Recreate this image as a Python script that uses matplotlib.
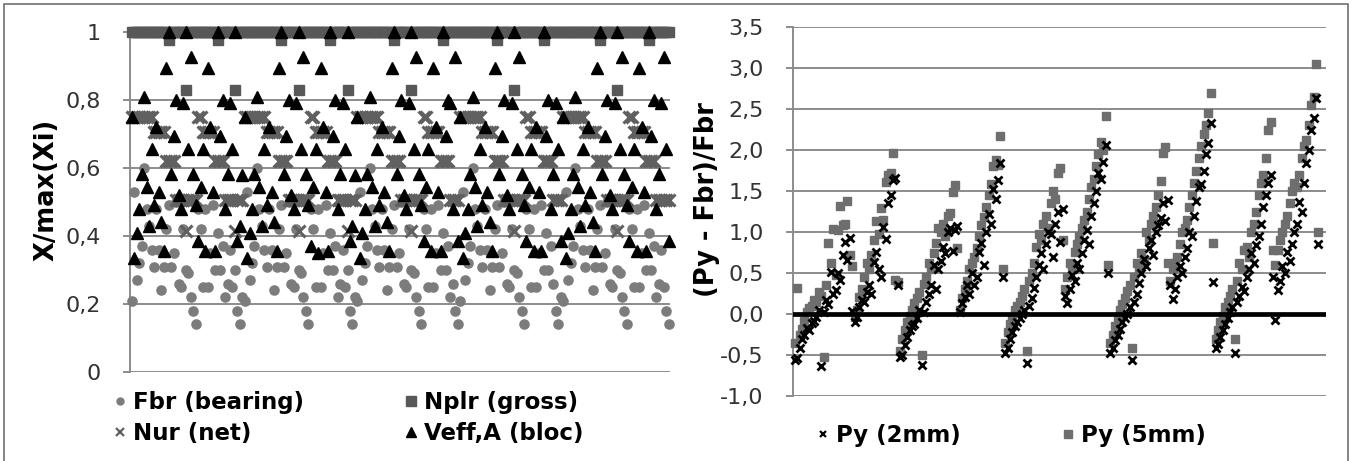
import numpy as np
import matplotlib
matplotlib.use("Agg")
import matplotlib.pyplot as plt
from matplotlib.lines import Line2D
from matplotlib.patches import Rectangle

plt.rcParams['font.family'] = ['DejaVu Sans']

# ---- left panel: normalised resistances, 5 blocks of cases ----
fbr = (
    [0.21, 0.53, 0.27, 0.32, 0.37, 0.60, 0.48, 0.43, 0.36, 0.31,
     0.48, 0.36, 0.24, 0.31, 0.42, 0.49, 0.31, 0.35, 0.50, 0.26,
     0.25, 0.42, 0.30, 0.29, 0.22, 0.18, 0.14, 0.48, 0.42, 0.25,
     0.48, 0.25, 0.35, 0.49, 0.30, 0.41, 0.30, 0.37, 0.22, 0.26,
     0.36, 0.25, 0.30, 0.18, 0.14, 0.22]
    + [0.21, 0.53, 0.27, 0.32, 0.37, 0.60, 0.48, 0.43, 0.36, 0.31,
       0.48, 0.36, 0.24, 0.31, 0.42, 0.49, 0.31, 0.35, 0.50, 0.26,
       0.25, 0.42, 0.30, 0.29, 0.22, 0.18, 0.14, 0.48, 0.42, 0.25,
       0.48, 0.25, 0.35, 0.49, 0.30, 0.41, 0.30, 0.37, 0.22, 0.26,
       0.36, 0.25, 0.30, 0.18, 0.14, 0.22]
    + [0.21, 0.53, 0.27, 0.32, 0.37, 0.60, 0.48, 0.43, 0.36, 0.31,
       0.48, 0.36, 0.24, 0.31, 0.42, 0.49, 0.31, 0.35, 0.50, 0.26,
       0.25, 0.42, 0.30, 0.29, 0.22, 0.18, 0.14, 0.48, 0.42, 0.25,
       0.48, 0.25, 0.35, 0.49, 0.30, 0.41, 0.30, 0.37, 0.22, 0.26,
       0.18, 0.14]
    + [0.21, 0.53, 0.27, 0.32, 0.37, 0.60, 0.48, 0.43, 0.36, 0.31,
       0.48, 0.36, 0.24, 0.31, 0.42, 0.49, 0.31, 0.35, 0.50, 0.26,
       0.25, 0.42, 0.30, 0.29, 0.22, 0.18, 0.14, 0.48, 0.42, 0.25,
       0.48, 0.25, 0.35, 0.49, 0.30, 0.41, 0.30, 0.37, 0.26, 0.18,
       0.14, 0.22]
    + [0.21, 0.53, 0.27, 0.32, 0.37, 0.60, 0.48, 0.43, 0.36, 0.31,
       0.48, 0.36, 0.24, 0.31, 0.42, 0.49, 0.31, 0.35, 0.50, 0.26,
       0.25, 0.42, 0.30, 0.29, 0.22, 0.18, 0.14, 0.48, 0.42, 0.25,
       0.48, 0.25, 0.35, 0.49, 0.30, 0.41, 0.30, 0.37, 0.22, 0.26,
       0.36, 0.25, 0.18, 0.14]
)

nplr = (
    [1.0, 1.0, 1.0, 1.0, 1.0, 1.0, 1.0, 1.0, 1.0, 1.0,
     1.0, 1.0, 1.0, 1.0, 1.0, 0.975, 1.0, 1.0, 1.0, 1.0,
     1.0, 1.0, 0.83, 1.0, 1.0, 1.0, 1.0, 1.0, 1.0, 1.0,
     1.0, 1.0, 1.0, 1.0, 1.0, 0.975, 1.0, 1.0, 1.0, 1.0,
     1.0, 1.0, 0.83, 1.0, 1.0, 1.0]
    + [1.0, 1.0, 1.0, 1.0, 1.0, 1.0, 1.0, 1.0, 1.0, 1.0,
       1.0, 1.0, 1.0, 1.0, 1.0, 0.975, 1.0, 1.0, 1.0, 1.0,
       1.0, 1.0, 0.83, 1.0, 1.0, 1.0, 1.0, 1.0, 1.0, 1.0,
       1.0, 1.0, 1.0, 1.0, 1.0, 0.975, 1.0, 1.0, 1.0, 1.0,
       1.0, 1.0, 0.83, 1.0, 1.0, 1.0]
    + [1.0, 1.0, 1.0, 1.0, 1.0, 1.0, 1.0, 1.0, 1.0, 1.0,
       1.0, 1.0, 1.0, 1.0, 1.0, 0.975, 1.0, 1.0, 1.0, 1.0,
       1.0, 1.0, 0.83, 1.0, 1.0, 1.0, 1.0, 1.0, 1.0, 1.0,
       1.0, 1.0, 1.0, 1.0, 1.0, 0.975, 1.0, 1.0, 1.0, 1.0,
       1.0, 1.0]
    + [1.0, 1.0, 1.0, 1.0, 1.0, 1.0, 1.0, 1.0, 1.0, 1.0,
       1.0, 1.0, 1.0, 1.0, 1.0, 0.975, 1.0, 1.0, 1.0, 1.0,
       1.0, 1.0, 0.83, 1.0, 1.0, 1.0, 1.0, 1.0, 1.0, 1.0,
       1.0, 1.0, 1.0, 1.0, 0.975, 1.0, 1.0, 1.0, 1.0, 1.0,
       1.0, 1.0]
    + [1.0, 1.0, 1.0, 1.0, 1.0, 1.0, 1.0, 1.0, 1.0, 1.0,
       1.0, 1.0, 1.0, 1.0, 1.0, 0.975, 1.0, 1.0, 1.0, 1.0,
       1.0, 1.0, 0.83, 1.0, 1.0, 1.0, 1.0, 1.0, 1.0, 1.0,
       1.0, 1.0, 1.0, 1.0, 1.0, 0.975, 1.0, 1.0, 1.0, 1.0,
       1.0, 1.0, 1.0, 1.0]
)

nur = (
    [0.75, 0.75, 0.75, 0.75, 0.75, 0.75, 0.75, 0.75, 0.75, 0.705,
     0.705, 0.705, 0.705, 0.705, 0.62, 0.62, 0.62, 0.62, 0.505, 0.505,
     0.505, 0.505, 0.415, 0.505, 0.505, 0.505, 0.505, 0.75, 0.75, 0.705,
     0.705, 0.705, 0.705, 0.705, 0.62, 0.62, 0.62, 0.62, 0.505, 0.505,
     0.505, 0.505, 0.415, 0.505, 0.505, 0.505]
    + [0.75, 0.75, 0.75, 0.75, 0.75, 0.75, 0.75, 0.75, 0.75, 0.705,
       0.705, 0.705, 0.705, 0.705, 0.62, 0.62, 0.62, 0.62, 0.505, 0.505,
       0.505, 0.505, 0.415, 0.505, 0.505, 0.505, 0.505, 0.75, 0.75, 0.705,
       0.705, 0.705, 0.705, 0.705, 0.62, 0.62, 0.62, 0.62, 0.505, 0.505,
       0.505, 0.505, 0.415, 0.505, 0.505, 0.505]
    + [0.75, 0.75, 0.75, 0.75, 0.75, 0.75, 0.75, 0.75, 0.75, 0.705,
       0.705, 0.705, 0.705, 0.705, 0.62, 0.62, 0.62, 0.62, 0.505, 0.505,
       0.505, 0.505, 0.415, 0.505, 0.505, 0.505, 0.505, 0.75, 0.75, 0.705,
       0.705, 0.705, 0.705, 0.705, 0.62, 0.62, 0.62, 0.62, 0.505, 0.505,
       0.505, 0.505]
    + [0.75, 0.75, 0.75, 0.75, 0.75, 0.75, 0.75, 0.75, 0.75, 0.705,
       0.705, 0.705, 0.705, 0.705, 0.62, 0.62, 0.62, 0.62, 0.505, 0.505,
       0.505, 0.505, 0.415, 0.505, 0.505, 0.505, 0.505, 0.75, 0.75, 0.705,
       0.705, 0.705, 0.705, 0.705, 0.62, 0.62, 0.62, 0.62, 0.505, 0.505,
       0.505, 0.505]
    + [0.75, 0.75, 0.75, 0.75, 0.75, 0.75, 0.75, 0.75, 0.75, 0.705,
       0.705, 0.705, 0.705, 0.705, 0.62, 0.62, 0.62, 0.62, 0.505, 0.505,
       0.505, 0.505, 0.415, 0.505, 0.505, 0.505, 0.505, 0.75, 0.75, 0.705,
       0.705, 0.705, 0.705, 0.705, 0.62, 0.62, 0.62, 0.62, 0.505, 0.505,
       0.505, 0.505, 0.505, 0.505]
)

veff = (
    [0.75, 0.335, 0.41, 0.48, 0.583, 0.81, 0.545, 0.43, 0.656, 0.49,
     0.72, 0.53, 0.44, 0.355, 0.895, 1.0, 0.583, 0.695, 0.80, 0.52,
     0.48, 0.79, 1.0, 0.656, 0.927, 0.583, 0.49, 0.385, 0.545, 0.656,
     0.355, 0.895, 0.72, 0.53, 0.355, 1.0, 0.695, 0.80, 0.48, 0.583,
     0.79, 0.656, 1.0, 0.385, 0.43, 0.58]
    + [0.75, 0.335, 0.41, 0.48, 0.583, 0.81, 0.545, 0.43, 0.656, 0.49,
       0.72, 0.53, 0.44, 0.355, 0.895, 1.0, 0.583, 0.695, 0.80, 0.52,
       0.48, 0.79, 1.0, 0.656, 0.927, 0.583, 0.49, 0.37, 0.545, 0.656,
       0.35, 0.895, 0.72, 0.53, 0.355, 1.0, 0.695, 0.80, 0.48, 0.583,
       0.79, 0.656, 1.0, 0.385, 0.43, 0.58]
    + [0.75, 0.335, 0.41, 0.48, 0.583, 0.81, 0.545, 0.43, 0.656, 0.49,
       0.72, 0.53, 0.44, 0.355, 0.895, 1.0, 0.583, 0.695, 0.80, 0.52,
       0.48, 0.79, 1.0, 0.656, 0.927, 0.583, 0.49, 0.385, 0.545, 0.656,
       0.355, 0.895, 0.72, 0.53, 0.355, 1.0, 0.695, 0.80, 0.79, 0.48,
       0.927, 0.385]
    + [0.75, 0.335, 0.41, 0.48, 0.583, 0.81, 0.545, 0.43, 0.656, 0.49,
       0.72, 0.53, 0.44, 0.355, 0.895, 1.0, 0.583, 0.695, 0.80, 0.52,
       0.48, 0.79, 1.0, 0.656, 0.927, 0.583, 0.49, 0.385, 0.545, 0.656,
       0.355, 0.72, 0.53, 0.355, 1.0, 0.695, 0.80, 0.48, 0.583, 0.79,
       0.656, 0.385]
    + [0.75, 0.335, 0.41, 0.48, 0.583, 0.81, 0.545, 0.43, 0.656, 0.49,
       0.72, 0.53, 0.44, 0.355, 0.895, 1.0, 0.583, 0.695, 0.80, 0.52,
       0.48, 0.79, 1.0, 0.656, 0.927, 0.583, 0.49, 0.385, 0.545, 0.656,
       0.355, 0.895, 0.72, 0.53, 0.355, 1.0, 0.695, 0.80, 0.48, 0.583,
       0.79, 0.927, 0.656, 0.385]
)

# ---- right panel: (Py - Fbr)/Fbr for 2 mm and 5 mm deformation ----
py_2mm = (
    [-0.56, -0.54, -0.42, -0.30, -0.25, -0.17, -0.20, -0.11, -0.08, -0.04,
     0.05, -0.64, 0.02, 0.17, 0.12, 0.51, 0.24, 0.29, 0.50, 0.42,
     0.72, 0.88, 0.66, 0.93, 0.04]
    + [-0.10, -0.04, 0.08, 0.17, 0.15, 0.27, 0.35, 0.25, 0.63, 0.76,
       0.55, 0.45, 1.06, 0.92, 1.35, 1.45, 1.63, 1.66, 0.35]
    + [-0.52, -0.50, -0.38, -0.28, -0.20, -0.15, -0.12, -0.05, 0.05, -0.62,
       0.02, 0.15, 0.25, 0.35, 0.60, 0.30, 0.55, 0.65, 0.82, 0.75,
       1.00, 1.05, 0.77, 1.03, 1.07]
    + [0.02, 0.13, 0.21, 0.35, 0.25, 0.50, 0.35, 0.45, 0.76, 0.87,
       0.60, 1.00, 1.22, 1.10, 1.52, 1.40, 1.63, 1.84, 0.45]
    + [-0.48, -0.42, -0.30, -0.22, -0.15, -0.10, -0.05, 0.00, 0.05, -0.60,
       0.10, 0.20, 0.32, 0.45, 0.60, 0.74, 0.55, 0.85, 1.00, 0.98,
       0.70, 1.10, 1.25, 0.88, 1.28]
    + [0.22, 0.13, 0.30, 0.47, 0.40, 0.62, 0.55, 0.75, 0.90, 1.02,
       0.85, 1.20, 1.35, 1.50, 1.72, 1.65, 1.85, 2.06, 0.50]
    + [-0.48, -0.42, -0.32, -0.25, -0.18, -0.10, -0.05, 0.00, 0.08, -0.56,
       0.15, 0.25, 0.38, 0.50, 0.67, 0.59, 0.80, 0.90, 0.72, 1.00,
       1.08, 1.17, 1.35, 1.13, 1.39]
    + [0.35, 0.18, 0.30, 0.45, 0.59, 0.50, 0.70, 0.80, 1.00, 0.95,
       1.20, 1.38, 1.55, 1.59, 1.75, 1.95, 2.09, 2.33, 0.39]
    + [-0.42, -0.37, -0.28, -0.20, -0.12, -0.05, 0.02, 0.08, -0.48, 0.15,
       0.22, 0.33, 0.28, 0.45, 0.55, 0.74, 0.62, 0.84, 0.95, 1.10,
       1.30, 1.45, 1.60, 1.69, 0.45]
    + [-0.07, 0.29, 0.40, 0.58, 0.50, 0.76, 0.65, 0.85, 1.00, 1.10,
       1.37, 1.25, 1.60, 1.84, 2.00, 2.24, 2.39, 2.64, 0.85]
)

py_5mm = (
    [-0.35, 0.32, -0.25, -0.18, -0.08, 0.02, 0.07, 0.10, 0.17, 0.15,
     0.27, 0.22, -0.52, 0.35, 0.86, 0.62, 1.04, 0.48, 1.02, 1.32,
     1.08, 1.10, 1.38, 0.72, 0.58]
    + [-0.04, 0.05, 0.21, 0.30, 0.45, 0.62, 0.55, 0.72, 0.90, 1.13,
       0.98, 1.29, 1.15, 1.61, 1.70, 1.72, 1.96, 0.41, 0.39]
    + [-0.45, -0.30, -0.19, -0.10, -0.02, 0.05, 0.13, 0.20, 0.27, -0.50,
       0.37, 0.45, 0.62, 0.55, 0.74, 0.87, 1.05, 1.00, 1.10, 0.95,
       1.20, 1.23, 1.49, 1.57, 0.80]
    + [0.05, 0.20, 0.30, 0.40, 0.55, 0.62, 0.70, 0.80, 0.95, 1.08,
       1.18, 1.30, 1.45, 1.58, 1.80, 1.88, 1.82, 2.17, 0.55]
    + [-0.35, -0.22, -0.12, -0.05, 0.05, 0.10, 0.15, 0.22, 0.30, -0.45,
       0.40, 0.50, 0.62, 0.82, 0.98, 0.90, 1.10, 1.20, 1.05, 1.35,
       1.50, 1.40, 1.72, 1.78, 0.90]
    + [0.30, 0.45, 0.62, 0.55, 0.76, 0.85, 0.95, 1.05, 1.15, 1.25,
       1.40, 1.55, 1.65, 1.80, 1.95, 2.10, 2.00, 2.41, 0.60]
    + [-0.35, -0.25, -0.15, -0.05, 0.05, 0.12, 0.20, 0.28, 0.35, -0.42,
       0.45, 0.62, 0.55, 0.75, 0.66, 1.00, 0.90, 1.10, 1.20, 1.30,
       1.45, 1.62, 1.96, 2.04, 0.62]
    + [0.40, 0.55, 0.62, 0.70, 0.85, 1.00, 1.05, 1.15, 1.30, 1.45,
       1.60, 1.75, 1.90, 2.05, 2.20, 2.30, 2.45, 2.70, 0.86]
    + [-0.30, -0.20, -0.10, -0.02, 0.08, 0.15, 0.22, 0.30, -0.31, 0.40,
       0.62, 0.55, 0.78, 0.82, 0.70, 1.00, 1.10, 1.25, 1.45, 1.60,
       1.70, 1.90, 2.24, 2.34, 0.78]
    + [0.60, 0.78, 0.90, 1.00, 1.10, 1.20, 1.35, 1.50, 1.60, 1.55,
       1.70, 1.90, 2.05, 2.12, 2.30, 2.55, 2.65, 3.05, 1.00]
)

left_ticks = [0, 0.2, 0.4, 0.6, 0.8, 1.0]
left_labels = ['0', '0,2', '0,4', '0,6', '0,8', '1']
right_ticks = [-1.0, -0.5, 0.0, 0.5, 1.0, 1.5, 2.0, 2.5, 3.0, 3.5]
right_labels = ['-1,0', '-0,5', '0,0', '0,5', '1,0', '1,5', '2,0', '2,5', '3,0', '3,5']

GRID = '#8c8c8c'
C_FBR = '#7c7c7c'
C_NPL = '#585858'
C_NUR = '#606060'
C_PY5 = '#6e6e6e'

W, H = 1358, 461
fig = plt.figure(figsize=(W / 100, H / 100), dpi=100)
fig.patch.set_facecolor('white')


def box(x0, y0, x1, y1):
    return [x0 / W, 1 - y1 / H, (x1 - x0) / W, (y1 - y0) / H]


ax1 = fig.add_axes(box(130, 32, 670, 372))
ax2 = fig.add_axes(box(793, 27, 1326, 396))

for ax in (ax1, ax2):
    ax.set_facecolor('none')
    for s in ('top', 'right', 'bottom'):
        ax.spines[s].set_visible(False)
    ax.spines['left'].set_color(GRID)
    ax.spines['left'].set_linewidth(1.4)
    ax.tick_params(axis='y', length=5, width=1.4, color=GRID,
                   labelsize=16, labelcolor='#333333', pad=16)
    ax.tick_params(axis='x', bottom=False, labelbottom=False)
    ax.yaxis.grid(True, color=GRID, linewidth=1.4)
    ax.set_axisbelow(True)

# left panel
xl = np.arange(len(fbr))
ax1.plot(xl, fbr, ls='none', marker='o', ms=6.6, mfc=C_FBR, mec=C_FBR,
         clip_on=False, zorder=3)
ax1.plot(xl, nplr, ls='none', marker='s', ms=7.6, mfc=C_NPL, mec=C_NPL,
         clip_on=False, zorder=4)
ax1.plot(xl, nur, ls='none', marker='x', ms=8.2, mew=2.2, color=C_NUR,
         clip_on=False, zorder=5)
ax1.plot(xl, veff, ls='none', marker='^', ms=8.6, mfc='black', mec='black',
         clip_on=False, zorder=6)
ax1.set_xlim(-0.8, 219.6)
ax1.set_ylim(0, 1.0)
ax1.set_yticks(left_ticks)
ax1.set_yticklabels(left_labels)

# right panel
xr = np.arange(len(py_2mm))
ax2.plot(xr, py_5mm, ls='none', marker='s', ms=6.4, mfc=C_PY5, mec=C_PY5,
         clip_on=False, zorder=3)
ax2.axhline(0, color='black', linewidth=3.4, zorder=4)
ax2.plot(xr, py_2mm, ls='none', marker='x', ms=6.4, mew=2.0, color='black',
         clip_on=False, zorder=5)
ax2.set_xlim(-0.8, 222.2)
ax2.set_ylim(-1.0, 3.5)
ax2.set_yticks(right_ticks)
ax2.set_yticklabels(right_labels)

fig.text(47 / W, 1 - 190 / H, 'X/max(Xi)', rotation=90, ha='center',
         va='center', fontsize=18.5, fontweight='bold')
fig.text(707 / W, 1 - 200 / H, '(Py - Fbr)/Fbr', rotation=90, ha='center',
         va='center', fontsize=18.5, fontweight='bold')

# legends
h_fbr = Line2D([], [], ls='none', marker='o', ms=5, mfc=C_FBR, mec=C_FBR)
h_nur = Line2D([], [], ls='none', marker='x', ms=5.5, mew=1.6, color=C_NUR)
h_npl = Line2D([], [], ls='none', marker='s', ms=6.5, mfc=C_NPL, mec=C_NPL)
h_veff = Line2D([], [], ls='none', marker='^', ms=6.5, mfc='black', mec='black')
h_py2 = Line2D([], [], ls='none', marker='x', ms=5, mew=1.6, color='black')
h_py5 = Line2D([], [], ls='none', marker='s', ms=6, mfc=C_PY5, mec=C_PY5)

leg_kw = dict(ncol=2, loc='upper left', frameon=False, borderpad=0,
              borderaxespad=0, handlelength=0.6, handletextpad=0.27,
              columnspacing=4.38, labelspacing=0.36,
              prop={'size': 16.5, 'weight': 'bold'},
              bbox_transform=fig.transFigure)
fig.legend([h_fbr, h_nur, h_npl, h_veff],
           ['Fbr (bearing)', 'Nur (net)', 'Nplr (gross)', 'Veff,A (bloc)'],
           bbox_to_anchor=(113 / W, 1 - 391 / H), **leg_kw)
fig.legend([h_py2, h_py5], ['Py (2mm)', 'Py (5mm)'],
           bbox_to_anchor=(816 / W, 1 - 424 / H), **leg_kw)

# outer frame
fig.add_artist(Rectangle((4 / W, -0.1), 1344 / W, 1.1 - 4 / H,
                         transform=fig.transFigure, fill=False,
                         edgecolor='#707070', linewidth=1.2))

fig.savefig('out.png', dpi=100)
